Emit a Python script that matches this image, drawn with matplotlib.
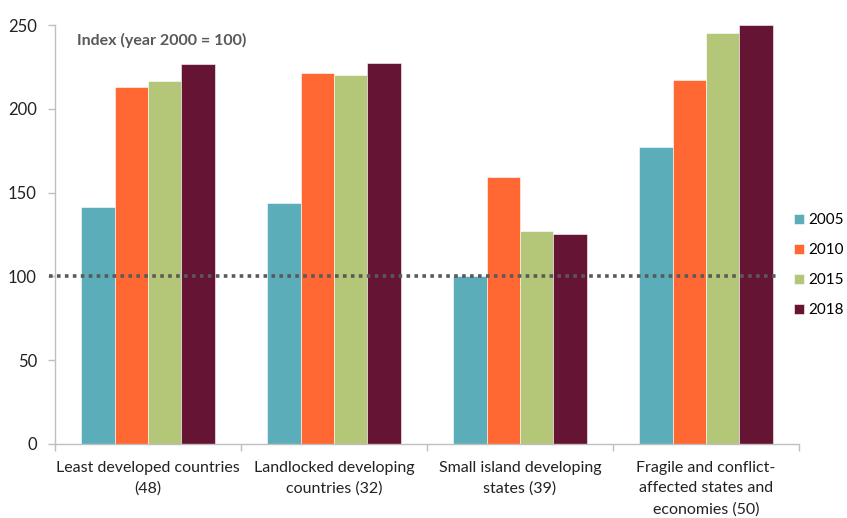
import numpy as np
import matplotlib.pyplot as plt
import matplotlib.transforms as mtransforms

# Data (index, year 2000 = 100)
categories = ['Least developed countries\n(48)',
              'Landlocked developing\ncountries (32)',
              'Small island developing\nstates (39)',
              'Fragile and conflict-\naffected states and\neconomies (50)']
years = ['2005', '2010', '2015', '2018']
v2005 = [141.5, 143.5, 100.2, 177.5]
v2010 = [213.2, 221.5, 159.5, 217.0]
v2015 = [216.3, 220.0, 127.3, 245.5]
v2018 = [226.5, 227.3, 125.1, 250.0]
baseline = 100

colors = ['#5BAEB9', '#FF6833', '#B4C677', '#651533']

plt.rcParams['font.family'] = ['Lato', 'DejaVu Sans']

fig = plt.figure(figsize=(8.47, 5.18), dpi=100)
ax = fig.add_axes([55 / 847, 1 - 444 / 518, 744 / 847, 419 / 518])

x = np.arange(len(categories))
width = 0.18
for i, (vals, yr) in enumerate(zip([v2005, v2010, v2015, v2018], years)):
    ax.bar(x + (i - 1.5) * width, vals, width, color=colors[i], label=yr,
           edgecolor='white', linewidth=0.4, zorder=2)

# reference line at 100
trans = mtransforms.blended_transform_factory(ax.transAxes, ax.transData)
ax.plot([-0.008, 0.972], [baseline, baseline], transform=trans, color='#595959',
        linestyle=(0, (1, 1.2)), linewidth=2.6, clip_on=False, zorder=3)

ax.set_xlim(-0.5, len(categories) - 0.5)
ax.set_ylim(0, 250)
ax.set_yticks([0, 50, 100, 150, 200, 250])
ax.set_xticks(x)
ax.set_xticklabels(categories, fontsize=11.5, color='#222222', linespacing=1.62)
ax.set_xticks(np.arange(-0.5, len(categories)), minor=True)
ax.tick_params(axis='x', which='major', length=0, pad=12)
ax.tick_params(axis='x', which='minor', length=5, color='#BFBFBF', width=1)
ax.tick_params(axis='y', length=5, color='#BFBFBF', width=1, labelsize=12,
               labelcolor='#222222', pad=8)

for side in ['top', 'right']:
    ax.spines[side].set_visible(False)
for side in ['left', 'bottom']:
    ax.spines[side].set_color('#BFBFBF')
    ax.spines[side].set_linewidth(1)

ax.text(0.03, 0.962, 'Index (year 2000 = 100)', transform=ax.transAxes,
        fontsize=11.5, fontweight='bold', color='#595959', va='center')

ax.legend(loc='center left', bbox_to_anchor=(0.993, 0.427), frameon=False,
          fontsize=11, handlelength=0.65, handleheight=0.65, handletextpad=0.3,
          labelspacing=1.05, borderpad=0, borderaxespad=0)

fig.savefig('out.png', dpi=100)
